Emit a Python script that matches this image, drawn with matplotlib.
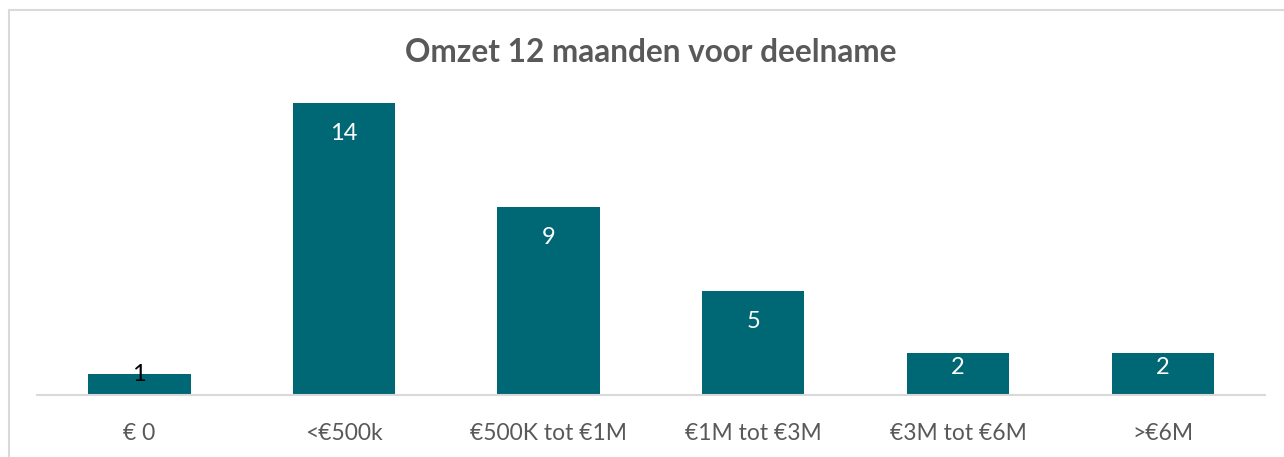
import matplotlib.pyplot as plt
from matplotlib.patches import Rectangle

categories = ["€ 0", "<€500k", "€500K tot €1M", "€1M tot €3M", "€3M tot €6M", ">€6M"]
counts = [1, 14, 9, 5, 2, 2]

plt.rcParams['font.family'] = ['Lato', 'DejaVu Sans']

W, H = 1284, 457
fig = plt.figure(figsize=(W / 100, H / 100), dpi=100)

# light grey chart border (runs off the right/bottom edges)
fig.patches.append(Rectangle((9 / W, -0.1), 1.2, 1 - 10 / H + 0.1,
                             transform=fig.transFigure, fill=False,
                             edgecolor="#d9d9d9", linewidth=1.5))

ax = fig.add_axes([37 / W, 62 / H, 1228 / W, 292 / H])
x = range(len(categories))
bars = ax.bar(x, counts, width=0.5, color="#006775")
ax.set_xlim(-0.5, len(categories) - 0.5)
ax.set_ylim(0, 14)

for b, v in zip(bars, counts):
    cx = b.get_x() + b.get_width() / 2
    if v == 1:
        ax.text(cx, v, str(v), ha="center", va="center", color="black", fontsize=17)
    else:
        off = -22 if v > 3 else -10
        ax.annotate(str(v), (cx, v), xytext=(0, off), textcoords="offset points",
                    ha="center", va="center", color="white", fontsize=17)

for s in ["top", "right", "left"]:
    ax.spines[s].set_visible(False)
ax.spines["bottom"].set_color("#d9d9d9")
ax.spines["bottom"].set_linewidth(1.5)
ax.set_yticks([])
ax.set_xticks(list(x))
ax.set_xticklabels(categories, fontsize=16.5, color="#595959")
ax.tick_params(axis="x", length=0, pad=20)

fig.text(0.507, 1 - 52 / H, "Omzet 12 maanden voor deelname", ha="center", va="center",
         fontsize=22.7, fontweight="bold", color="#595959")

plt.savefig("out.png", dpi=100)
